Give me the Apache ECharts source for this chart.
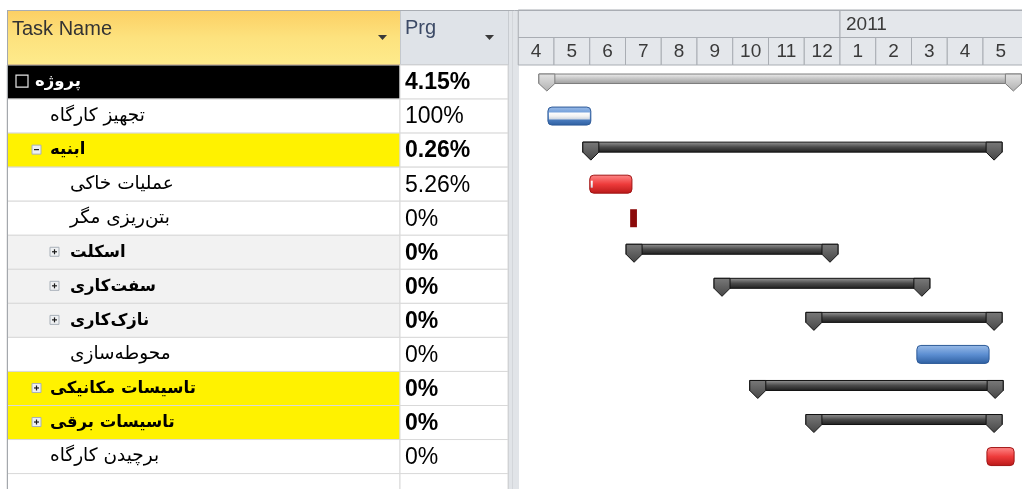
<!DOCTYPE html>
<html>
<head>
<meta charset="utf-8">
<script src="https://cdn.jsdelivr.net/npm/echarts@6/dist/echarts.min.js"></script>
<style>
  html, body { margin: 0; padding: 0; background: #fff; }
  #chart { width: 1022px; height: 489px; }
</style>
</head>
<body>
<div id="chart"></div>
<script>
// جدول کارها — داده‌ها از تصویر خوانده شده (ماه‌ها از ابتدای آوریل ۲۰۱۰ شمرده می‌شوند)
const TASK_NAMES = [
  "پروژه", "تجهیز کارگاه", "ابنیه", "عملیات خاکی", "بتن‌ریزی مگر", "اسکلت",
  "سفت‌کاری", "نازک‌کاری", "محوطه‌سازی", "تاسیسات مکانیکی", "تاسیسات برقی", "برچیدن کارگاه",
];
const OUTLINE_LEVEL = [0, 1, 1, 2, 2, 2, 2, 2, 2, 1, 1, 1];
const TASK_KIND = ["project", "task", "summary", "task", "task", "summary",
  "summary", "summary", "task", "summary", "summary", "task"];
const PERCENT_COMPLETE = [4.15, 100, 0.26, 5.26, 0, 0, 0, 0, 0, 0, 0, 0];
const CRITICAL = [false, false, false, true, true, false, false, false, false, false, false, true];
const START_MONTH = [0.80, 0.83, 2.03, 2.00, 3.13, 3.24, 5.70, 8.27, 11.15, 6.70, 8.27, 13.11];
const FINISH_MONTH = [13.85, 2.03, 13.31, 3.18, 3.32, 8.72, 11.29, 13.31, 13.17, 13.34, 13.31, 13.87];

// سرستون زمان‌بندی
const MONTH_LABELS = ["4", "5", "6", "7", "8", "9", "10", "11", "12", "1", "2", "3", "4", "5"];
const YEAR_LABELS = ["", "2011"];
const YEAR_START = [0, 9];
const YEAR_END = [9, 14];

// ---- style (not data) ----
const ROW_COUNT = TASK_NAMES.length + 1; // one empty row at the bottom
const ROW_FILL = { 0: "#000000", 2: "#fff200", 5: "#f2f2f2", 6: "#f2f2f2", 7: "#f2f2f2", 9: "#fff200", 10: "#fff200" };
const BOX_OFFSET = [9, 25, 43];
const TEXT_OFFSET = [28, 43, 63];
const TOP = 65, ROW_H = 34.05, GRID_H = 489 - TOP;
const ROW_MAX = -0.5 + GRID_H / ROW_H; // visible rows (last one cut by the window)
const FA_FONT = '"DejaVu Sans", sans-serif';
const LAT_FONT = '"Liberation Sans", Arial, sans-serif';
const grad = (stops) => new echarts.graphic.LinearGradient(0, 0, 0, 1,
  stops.map((c, k) => ({ offset: k / (stops.length - 1), color: c })));

function isSummary(i) {
  return TASK_KIND[i] === "summary" || TASK_KIND[i] === "project";
}

function renderNameCell(params, api) {
  const i = api.value(1);
  const p = api.coord([0, i]);
  const s = api.size([1, 1]);
  const top = p[1] - s[1] / 2;
  const children = [{
    type: "rect",
    shape: { x: p[0], y: top, width: s[0], height: s[1] },
    style: { fill: ROW_FILL[i] || "#fff", stroke: "#d9d9d9", lineWidth: 1 },
  }];
  if (i < TASK_NAMES.length) {
    const lvl = OUTLINE_LEVEL[i];
    const yc = p[1];
    if (TASK_KIND[i] === "project") {
      children.push({
        type: "rect",
        shape: { x: p[0] + BOX_OFFSET[0], y: yc - 7, width: 12, height: 12 },
        style: { fill: "none", stroke: "#e6e6e6", lineWidth: 1.2 },
      });
    } else if (TASK_KIND[i] === "summary") {
      const bx = p[0] + BOX_OFFSET[lvl];
      const expanded = i === 2;
      children.push({
        type: "rect",
        shape: { x: bx, y: yc - 5, width: 9, height: 9 },
        style: { fill: "#eef0f2", stroke: "#a8b0b9", lineWidth: 1 },
      });
      children.push({
        type: "line",
        shape: { x1: bx + 2, y1: yc - 0.5, x2: bx + 7, y2: yc - 0.5 },
        style: { stroke: "#1a1a1a", lineWidth: 1.2 },
      });
      if (!expanded) {
        children.push({
          type: "line",
          shape: { x1: bx + 4.5, y1: yc - 3, x2: bx + 4.5, y2: yc + 2 },
          style: { stroke: "#1a1a1a", lineWidth: 1.2 },
        });
      }
    }
    children.push({
      type: "text",
      x: p[0] + TEXT_OFFSET[lvl],
      y: yc,
      style: {
        text: TASK_NAMES[i],
        fill: i === 0 ? "#ffffff" : "#000000",
        font: isSummary(i) ? "bold 16.5px " + FA_FONT : "18.5px " + FA_FONT,
        align: "left",
        verticalAlign: "middle",
      },
    });
  }
  return { type: "group", children };
}

function renderPrgCell(params, api) {
  const i = api.value(1);
  const p = api.coord([0, i]);
  const s = api.size([1, 1]);
  const children = [{
    type: "rect",
    shape: { x: p[0], y: p[1] - s[1] / 2, width: s[0], height: s[1] },
    style: { fill: "#fff", stroke: "#d9d9d9", lineWidth: 1 },
  }];
  if (i < TASK_NAMES.length) {
    children.push({
      type: "text",
      x: p[0] + 5,
      y: p[1] + 1,
      style: {
        text: PERCENT_COMPLETE[i] + "%",
        fill: "#000",
        font: (isSummary(i) ? "bold " : "") + "23px " + LAT_FONT,
        align: "left",
        verticalAlign: "middle",
      },
    });
  }
  return { type: "group", children };
}

function summaryShape(x1, x2, yc, light) {
  const body = light
    ? grad(["#f0f0f0", "#c4c4c4", "#9a9a9a"])
    : grad(["#9a9a9a", "#4a4a4a", "#1c1c1c"]);
  const cap = light ? grad(["#e4e4e4", "#b0b0b0"]) : grad(["#7a7a7a", "#454545"]);
  const stroke = light ? "#7c7c7c" : "#111";
  const bot = light ? 1.5 : 2;
  const tip = light ? 9 : 10;
  const capPts = (t) => [[t - 8, yc - 8], [t + 8, yc - 8], [t + 8, yc + bot], [t, yc + tip], [t - 8, yc + bot]];
  return [
    { type: "rect", shape: { x: x1 - 8, y: yc - 8, width: x2 - x1 + 16, height: 8 + bot },
      style: { fill: body, stroke, lineWidth: 1 } },
    { type: "polygon", shape: { points: capPts(x1) }, style: { fill: cap, stroke, lineWidth: 1 } },
    { type: "polygon", shape: { points: capPts(x2) }, style: { fill: cap, stroke, lineWidth: 1 } },
  ];
}

function renderGantt(params, api) {
  const i = api.value(2);
  const a = api.coord([api.value(0), i]);
  const b = api.coord([api.value(1), i]);
  const yc = a[1];
  const kind = TASK_KIND[i];
  if (kind !== "task") {
    return { type: "group", children: summaryShape(a[0], b[0], yc, kind === "project") };
  }
  const w = b[0] - a[0];
  const children = [];
  if (CRITICAL[i] && w < 10) {
    // short critical task: flat dark bar
    children.push({ type: "rect", shape: { x: a[0], y: yc - 9, width: w, height: 18 },
      style: { fill: "#8b0a0a" } });
  } else {
    const fill = CRITICAL[i]
      ? grad(["#ff8a8a", "#ee3b3b", "#b81818"])
      : grad(["#9bbce8", "#5d8fd2", "#2d5ea0"]);
    children.push({ type: "rect", shape: { x: a[0], y: yc - 9, width: w, height: 18, r: 4 },
      style: { fill, stroke: CRITICAL[i] ? "#a01414" : "#2d5a98", lineWidth: 1 } });
    const pw = w * PERCENT_COMPLETE[i] / 100;
    if (pw > 0) {
      children.push({ type: "rect", shape: { x: a[0] + 1, y: yc - 3.5, width: Math.max(pw - 2, 2), height: 7 },
        style: { fill: grad(["#ffffff", "#f2f2f2", "#c9d3e0"]) } });
    }
  }
  return { type: "group", children };
}

function renderMonthCell(params, api) {
  const a = api.coord([api.value(0), 1]);
  const b = api.coord([api.value(1), 2]);
  const last = params.dataIndex === MONTH_LABELS.length - 1;
  const right = last ? b[0] + 10 : b[0];
  return {
    type: "group",
    children: [
      { type: "rect", shape: { x: a[0], y: a[1], width: right - a[0], height: b[1] - a[1] },
        style: { fill: "#e4e7eb", stroke: "#a9adb3", lineWidth: 1 } },
      { type: "text", x: (a[0] + b[0]) / 2, y: (a[1] + b[1]) / 2 + 1,
        style: { text: MONTH_LABELS[params.dataIndex], fill: "#3a3a3a", font: "19px " + LAT_FONT,
          align: "center", verticalAlign: "middle" } },
    ],
  };
}

function renderYearCell(params, api) {
  const a = api.coord([api.value(0), 0]);
  const b = api.coord([api.value(1), 1]);
  const right = params.dataIndex === YEAR_LABELS.length - 1 ? b[0] + 10 : b[0];
  return {
    type: "group",
    children: [
      { type: "rect", shape: { x: a[0], y: a[1], width: right - a[0], height: b[1] - a[1] },
        style: { fill: "#e4e7eb", stroke: "#a9adb3", lineWidth: 1 } },
      { type: "text", x: a[0] + 6, y: (a[1] + b[1]) / 2 + 1,
        style: { text: YEAR_LABELS[params.dataIndex], fill: "#3a3a3a", font: "19px " + LAT_FONT,
          align: "left", verticalAlign: "middle" } },
    ],
  };
}

const hiddenValue = (min, max, gridIndex) => ({
  type: "value", gridIndex, min, max, show: false, splitLine: { show: false },
});
const hiddenRows = (gridIndex) => ({
  type: "value", gridIndex, min: -0.5, max: ROW_MAX, inverse: true, show: false, splitLine: { show: false },
});

const chart = echarts.init(document.getElementById("chart"));
chart.setOption({
  animation: false,
  backgroundColor: "#fff",
  grid: [
    { left: 7, top: TOP, width: 393, height: GRID_H },
    { left: 400, top: TOP, width: 108, height: GRID_H },
    { left: 518.25, top: TOP, width: 500.5, height: GRID_H },
    { left: 518.25, top: 10, width: 500.5, height: 55 },
  ],
  xAxis: [hiddenValue(0, 1, 0), hiddenValue(0, 1, 1), hiddenValue(0, 14, 2), hiddenValue(0, 14, 3)],
  yAxis: [hiddenRows(0), hiddenRows(1), hiddenRows(2),
    { type: "value", gridIndex: 3, min: 0, max: 2, inverse: true, show: false }],
  graphic: [
    // table header chrome
    { type: "rect", shape: { x: 7, y: 10, width: 393, height: 55 }, style: { fill: grad(["#fccf63", "#fde27e", "#feeb8c"]) }, z: 1 },
    { type: "line", shape: { x1: 7, y1: 64.5, x2: 400, y2: 64.5 }, style: { stroke: "#d7a33c", lineWidth: 1 }, z: 1 },
    { type: "rect", shape: { x: 400, y: 10, width: 108, height: 55 }, style: { fill: "#dfe3e8" }, z: 1 },
    { type: "line", shape: { x1: 400.5, y1: 10, x2: 400.5, y2: 65 }, style: { stroke: "#c4c8cd" }, z: 1 },
    { type: "line", shape: { x1: 400, y1: 64.5, x2: 508, y2: 64.5 }, style: { stroke: "#c4c8cd" }, z: 1 },
    { type: "rect", shape: { x: 508, y: 10, width: 11, height: 479 }, style: { fill: "#e1e4e8" }, z: 1 },
    { type: "line", shape: { x1: 508.5, y1: 10, x2: 508.5, y2: 489 }, style: { stroke: "#c7cbd0" }, z: 1 },
    { type: "line", shape: { x1: 512.5, y1: 10, x2: 512.5, y2: 489 }, style: { stroke: "#d3d6da" }, z: 1 },
    { type: "line", shape: { x1: 7, y1: 10.5, x2: 1022, y2: 10.5 }, style: { stroke: "#a9adb3" }, z: 5 },
    { type: "line", shape: { x1: 7.5, y1: 10, x2: 7.5, y2: 489 }, style: { stroke: "#a4a8ad" }, z: 5 },
    { type: "text", x: 12, y: 29, style: { text: "Task Name", fill: "#333", font: "20px " + LAT_FONT, verticalAlign: "middle" }, z: 5 },
    { type: "text", x: 405, y: 28, style: { text: "Prg", fill: "#3c4a66", font: "20px " + LAT_FONT, verticalAlign: "middle" }, z: 5 },
    { type: "polygon", shape: { points: [[378, 35], [387, 35], [382.5, 40]] }, style: { fill: "#3a3a3a" }, z: 5 },
    { type: "polygon", shape: { points: [[485, 35], [494, 35], [489.5, 40]] }, style: { fill: "#3a3a3a" }, z: 5 },
  ],
  series: [
    { type: "custom", xAxisIndex: 0, yAxisIndex: 0, encode: { x: 0, y: 1 },
      data: Array.from({ length: ROW_COUNT }, (_, i) => [0, i]), renderItem: renderNameCell },
    { type: "custom", xAxisIndex: 1, yAxisIndex: 1, encode: { x: 0, y: 1 },
      data: Array.from({ length: ROW_COUNT }, (_, i) => [0, i]), renderItem: renderPrgCell },
    { type: "custom", xAxisIndex: 2, yAxisIndex: 2, encode: { x: [0, 1], y: 2 },
      data: TASK_NAMES.map((_, i) => [START_MONTH[i], FINISH_MONTH[i], i]), renderItem: renderGantt, z: 4 },
    { type: "custom", xAxisIndex: 3, yAxisIndex: 3, encode: { x: [0, 1] },
      data: MONTH_LABELS.map((_, i) => [i, i + 1]), renderItem: renderMonthCell },
    { type: "custom", xAxisIndex: 3, yAxisIndex: 3, encode: { x: [0, 1] },
      data: YEAR_LABELS.map((_, k) => [YEAR_START[k], YEAR_END[k]]), renderItem: renderYearCell },
  ],
});
</script>
</body>
</html>
